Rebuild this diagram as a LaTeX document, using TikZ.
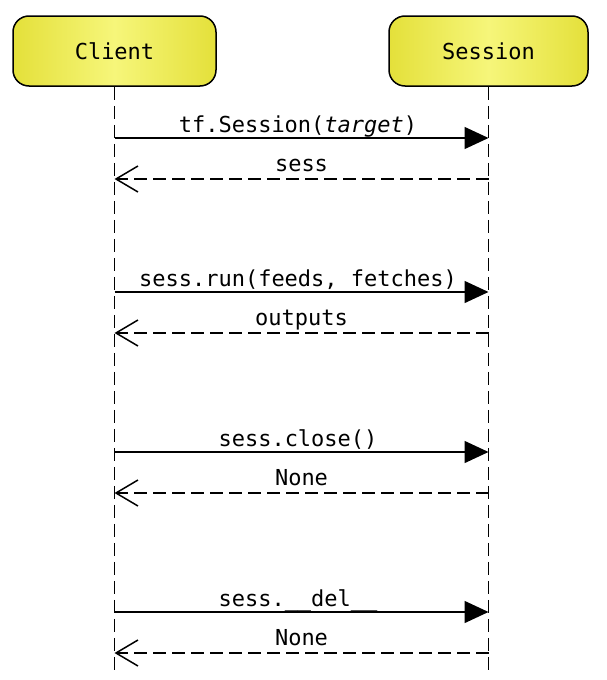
\documentclass[tikz,border=0pt]{standalone}
\usepackage{fontspec}
\setmonofont{DejaVu Sans Mono}
\usetikzlibrary{arrows.meta}
\tikzset{>={Triangle[width=22pt,length=24pt]}}
\definecolor{lifeedge}{RGB}{228,224,58}
\definecolor{lifemid}{RGB}{246,246,122}

\begin{document}
\begin{tikzpicture}[
    x = 1pt, y = -1pt,
    font = \ttfamily\fontsize{22}{26}\selectfont,
    actor/.style = {draw, line width=1.5pt, rounded corners=16pt,
        minimum height=70pt, left color=lifeedge, right color=lifeedge,
        middle color=lifemid, inner sep=0pt},
    life/.style = {line width=1.5pt, dash pattern=on 13pt off 6pt},
    call/.style = {line width=1.5pt, ->},
    reply/.style = {line width=1.5pt, dash pattern=on 13pt off 6pt,
        -{Straight Barb[length=22pt,width=26pt]}},
    msg/.style = {anchor=base, inner sep=0pt}
  ]
  \useasboundingbox (0,0) rectangle (606,680);

  \node[actor, minimum width=203pt] (client) at (114.5,51) {Client};
  \node[actor, minimum width=199pt] (session) at (488.5,51) {Session};

  \coordinate (clientend) at (114.5,672);
  \coordinate (sessionend) at (488.5,672);
  \draw[life] (client) -- (clientend);
  \draw[life] (session) -- (sessionend);

  \foreach \y/\call/\ret in {138/{tf.Session(\textit{target})}/sess,
      292/{sess.run(feeds, fetches)}/outputs,
      452/{sess.close()}/None,
      612/{sess.\_\_del\_\_}/None}
  {
    \coordinate (c\y) at (114.5,\y);
    \coordinate (s\y) at (488.5,\y);
    \coordinate (cr\y) at (114.5,\y+41);
    \coordinate (sr\y) at (488.5,\y+41);
    \draw[call] (c\y) -- (s\y);
    \draw[reply] (sr\y) -- (cr\y);
    \node[msg] (lab\y) at (298,\y-6) {\call};
    \node[msg] (ret\y) at (301.5,\y+33) {\ret};
  }
\end{tikzpicture}
\end{document}
